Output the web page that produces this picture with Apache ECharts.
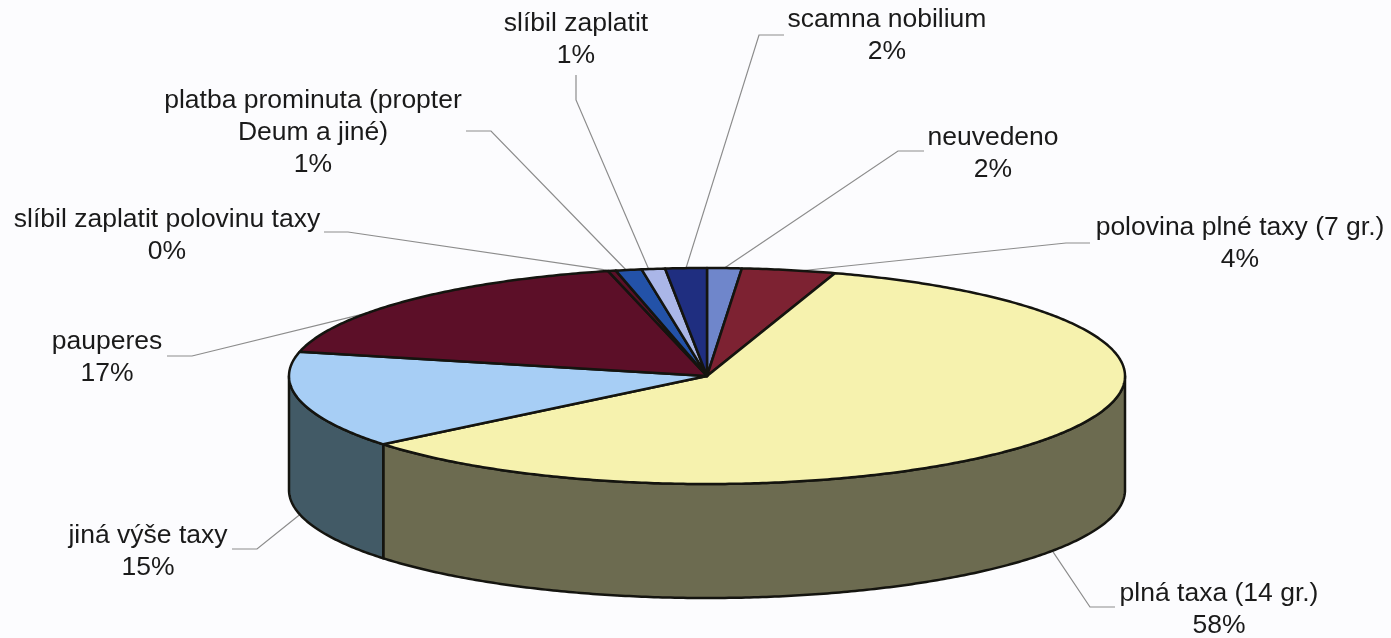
<!DOCTYPE html>
<html>
<head>
<meta charset="utf-8">
<style>html,body{margin:0;padding:0;background:#fcfcfe}#c{width:1391px;height:638px}</style>
<script src="https://cdn.jsdelivr.net/npm/echarts@6/dist/echarts.min.js"></script>
</head>
<body>
<div id="c"></div>
<script>
// Data, clockwise from twelve o'clock
var categories = ['neuvedeno','polovina plné taxy (7 gr.)','plná taxa (14 gr.)','jiná výše taxy','pauperes','slíbil zaplatit polovinu taxy','platba prominuta (propter\nDeum a jiné)','slíbil zaplatit','scamna nobilium'];
var shares = [1.33,3.62,59.15,14.5,17.6,0.3,1.0,0.9,1.6];
var percentLabels = ['2%','4%','58%','15%','17%','0%','1%','1%','2%'];

// Colours
var topColors = ['#6f86cb','#7d2232','#f6f2ae','#a7cef5','#5c0f28','#5c0f28','#2352a8','#aab6e8','#1f2e80'];
var sideColors = ['#3a4366','#401119','#6c6b50','#425a66','#2e0814','#2e0814','#112954','#555b74','#0f1740'];

// Layout
var pieCenter = [707, 376], radiusX = 418, radiusY = 108, pieDepth = 114;
var labelAnchors = [[993,122],[1240,212],[1219,578],[148,520],[107,326],[167,204],[313,85],[576,8],[887,4]];
var leaderElbows = [
  [[924,151],[898,151]], [[1090,243],[1066,243]], [[1115,607],[1090,607]], [[232,549],[257,549]],
  [[167,356],[192,356]], [[324,232],[348,232]], [[466,131],[491,131]], [[576,75],[576,100]], [[784,35],[759,35]]
];
var leaderFraction = [0.5,0.63,0.5,0.5,0.36,0.5,0.4,0.3,0.5];
var leaderOnBase = [false,false,true,true,false,false,false,false,false];

var total = shares.reduce(function(a,b){return a+b;},0);
var startAngle = [], acc = 0;
shares.forEach(function(v){ startAngle.push(acc/total*2*Math.PI); acc += v; });
function rim(theta, dy){
  return [pieCenter[0] + radiusX*Math.sin(theta), pieCenter[1] - radiusY*Math.cos(theta) + (dy||0)];
}
function arc(a, b, dy){
  var pts = [], n = Math.max(2, Math.ceil((b-a)/0.01));
  for (var i=0;i<=n;i++) pts.push(rim(a+(b-a)*i/n, dy));
  return pts;
}
var edge = {stroke:'#14140f', lineWidth:2.5, lineJoin:'round'};

function renderWall(params, api){
  var i = params.dataIndex, a = startAngle[i], b = a + api.value(0)/total*2*Math.PI;
  var lo = Math.max(a, Math.PI/2), hi = Math.min(b, Math.PI*1.5);
  if (hi <= lo) return {type:'group', children:[]};
  var pts = arc(lo,hi,0).concat(arc(lo,hi,pieDepth).reverse());
  return {type:'polygon', shape:{points:pts}, style:Object.assign({fill:sideColors[i]}, edge)};
}
function renderTop(params, api){
  var i = params.dataIndex, a = startAngle[i], b = a + api.value(0)/total*2*Math.PI;
  var pts = [pieCenter].concat(arc(a,b,0));
  return {type:'polygon', shape:{points:pts}, style:Object.assign({fill:topColors[i]}, edge)};
}
function renderLabel(params, api){
  var i = params.dataIndex, a = startAngle[i], b = a + api.value(0)/total*2*Math.PI;
  var anchor = rim(a+(b-a)*leaderFraction[i], leaderOnBase[i] ? pieDepth : 0);
  return {type:'group', children:[
    {type:'polyline', shape:{points:leaderElbows[i].concat([anchor])}, style:{fill:null, stroke:'#8c8c8c', lineWidth:1.2}},
    {type:'text', style:{x:labelAnchors[i][0], y:labelAnchors[i][1], text:categories[i]+'\n'+percentLabels[i],
      align:'center', verticalAlign:'top', fill:'#1a1a1a', font:'26.5px "Liberation Sans", Arial, sans-serif', lineHeight:32}}
  ]};
}
var chart = echarts.init(document.getElementById('c'), null, {renderer:'canvas'});
var seriesData = shares.map(function(v,i){ return {name:categories[i].replace('\n',' '), value:[v]}; });
chart.setOption({
  animation:false,
  backgroundColor:'#fcfcfe',
  tooltip:{show:false},
  series:[
    {type:'custom', coordinateSystem:'none', z:1, silent:true, renderItem:renderLabel, data:seriesData},
    {type:'custom', coordinateSystem:'none', z:2, silent:true, renderItem:renderWall, data:seriesData},
    {type:'custom', coordinateSystem:'none', z:3, silent:true, renderItem:renderTop, data:seriesData}
  ]
});
</script>
</body>
</html>
